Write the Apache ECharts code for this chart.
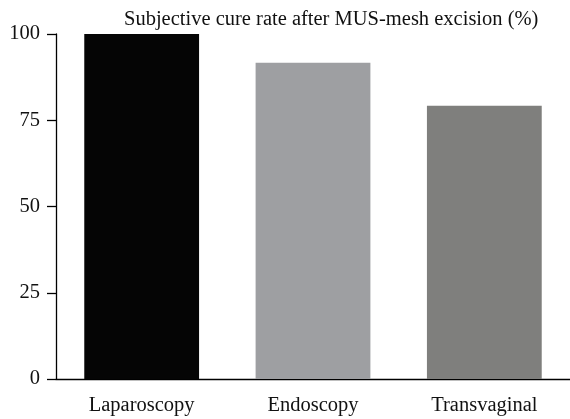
<!DOCTYPE html>
<html>
<head>
<meta charset="utf-8">
<script src="https://cdn.jsdelivr.net/npm/echarts@6/dist/echarts.min.js"></script>
<style>
  html, body { margin: 0; padding: 0; background: #fff; }
  #chart { width: 570px; height: 419px; }
</style>
</head>
<body>
<div id="chart"></div>
<script>
const categories = ['Laparoscopy', 'Endoscopy', 'Transvaginal']
const cureRate = [100, 91.7, 79.2]
const barColors = ['#050505', '#9e9fa2', '#7f7f7d']
const yTicks = [0, 25, 50, 75, 100]

const font = 'Liberation Serif'
const chart = echarts.init(document.getElementById('chart'))

const option = {
    animation: false,
    title: {
        text: 'Subjective cure rate after MUS-mesh excision (%)',
        left: 119,
        top: 4,
        textStyle: {
            fontFamily: font,
            fontWeight: 'normal',
            fontSize: 20.5,
            color: '#111'
        }
    },
    grid: {
        left: 56,
        top: 34,
        width: 517,
        bottom: 40
    },
    xAxis: {
        type: 'category',
        data: categories,
        axisLine: { lineStyle: { color: '#000', width: 1.3 } },
        axisTick: { alignWithLabel: true, length: 9, lineStyle: { color: '#000', width: 1.3 } },
        axisLabel: {
            fontFamily: font,
            fontSize: 20.5,
            color: '#111',
            margin: 16
        }
    },
    yAxis: {
        type: 'value',
        min: yTicks[0],
        max: yTicks[yTicks.length - 1],
        interval: 25,
        axisLine: { show: true, lineStyle: { color: '#000', width: 1.3 } },
        axisTick: { show: true, length: 9, lineStyle: { color: '#000', width: 1.3 } },
        splitLine: { show: false },
        axisLabel: {
            fontFamily: font,
            fontSize: 20.5,
            color: '#111',
            margin: 16
        }
    },
    series: [{
        type: 'bar',
        barWidth: '67%',
        data: cureRate.map((v, i) => ({ value: v, itemStyle: { color: barColors[i] } }))
    }]
}

chart.setOption(option)
</script>
</body>
</html>
